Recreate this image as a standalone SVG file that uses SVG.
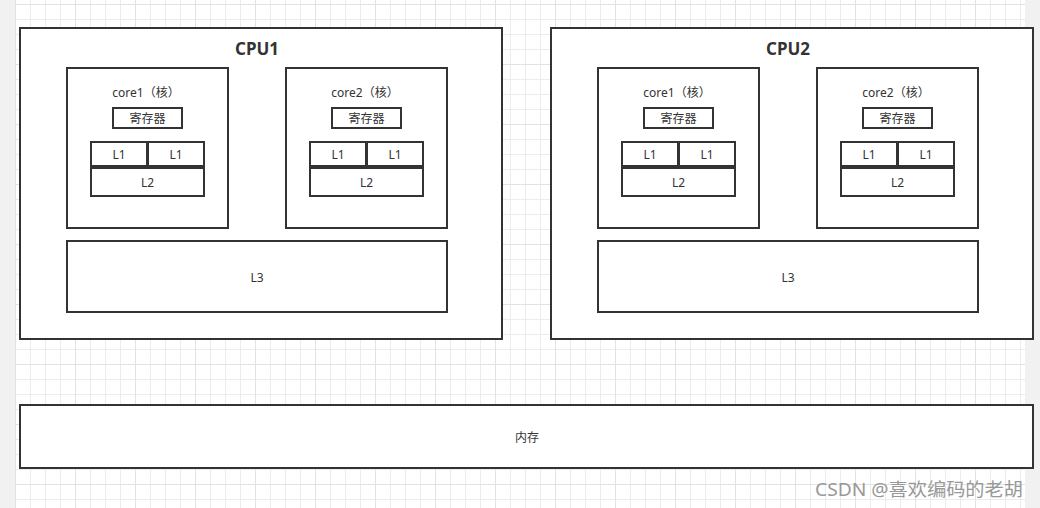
<svg xmlns="http://www.w3.org/2000/svg" width="1040" height="508" viewBox="0 0 1040 508">
<defs>
<pattern id="minor" patternUnits="userSpaceOnUse" x="15" y="4" width="15" height="15">
<path d="M0.5 0V15M0 0.5H15" stroke="#ececec" stroke-width="1" fill="none"/>
</pattern>
<pattern id="major" patternUnits="userSpaceOnUse" x="15" y="4" width="60" height="60">
<path d="M0.5 0V60M0 0.5H60" stroke="#e2e2e2" stroke-width="1" fill="none"/>
</pattern>
<style>
.box{fill:#fff;stroke:#333;stroke-width:2}
.t{font-family:"Noto Sans","Noto Sans CJK SC",sans-serif;font-size:12px;fill:#333;text-anchor:middle;dominant-baseline:central}
.h{font-family:"Noto Sans","Noto Sans CJK SC",sans-serif;font-size:17px;font-weight:bold;fill:#333;text-anchor:middle;dominant-baseline:central}
</style>
</defs>
<rect width="1040" height="508" fill="#f1f1f1"/>
<rect x="15" y="0" width="1010" height="508" fill="#fff"/>
<rect x="15" y="0" width="1010" height="508" fill="url(#minor)"/>
<rect x="15" y="0" width="1010" height="508" fill="url(#major)"/>

<g id="cpu1">
<rect class="box" x="20" y="28" width="482" height="311"/>
<text class="h" x="257" y="48">CPU1</text>
<g id="cpu1-core1">
<rect class="box" x="67" y="68" width="161" height="160"/>
<text class="t" x="146" y="92">core1（核）</text>
<rect class="box" x="113" y="108" width="69" height="20"/>
<text class="t" x="147.5" y="118">寄存器</text>
<rect class="box" x="91" y="142" width="56" height="24"/>
<text class="t" x="119" y="154">L1</text>
<rect class="box" x="148" y="142" width="56" height="24"/>
<text class="t" x="176" y="154">L1</text>
<rect class="box" x="91" y="168" width="113" height="28"/>
<text class="t" x="147.5" y="182">L2</text>
</g>
<g id="cpu1-core2">
<rect class="box" x="286" y="68" width="161" height="160"/>
<text class="t" x="365" y="92">core2（核）</text>
<rect class="box" x="332" y="108" width="69" height="20"/>
<text class="t" x="366.5" y="118">寄存器</text>
<rect class="box" x="310" y="142" width="56" height="24"/>
<text class="t" x="338" y="154">L1</text>
<rect class="box" x="367" y="142" width="56" height="24"/>
<text class="t" x="395" y="154">L1</text>
<rect class="box" x="310" y="168" width="113" height="28"/>
<text class="t" x="366.5" y="182">L2</text>
</g>
<g id="cpu1-l3">
<rect class="box" x="67" y="241" width="380" height="71"/>
<text class="t" x="257" y="277">L3</text>
</g>
</g>

<g id="cpu2" transform="translate(531,0)">
<rect class="box" x="20" y="28" width="482" height="311"/>
<text class="h" x="257" y="48">CPU2</text>
<g id="cpu2-core1">
<rect class="box" x="67" y="68" width="161" height="160"/>
<text class="t" x="146" y="92">core1（核）</text>
<rect class="box" x="113" y="108" width="69" height="20"/>
<text class="t" x="147.5" y="118">寄存器</text>
<rect class="box" x="91" y="142" width="56" height="24"/>
<text class="t" x="119" y="154">L1</text>
<rect class="box" x="148" y="142" width="56" height="24"/>
<text class="t" x="176" y="154">L1</text>
<rect class="box" x="91" y="168" width="113" height="28"/>
<text class="t" x="147.5" y="182">L2</text>
</g>
<g id="cpu2-core2">
<rect class="box" x="286" y="68" width="161" height="160"/>
<text class="t" x="365" y="92">core2（核）</text>
<rect class="box" x="332" y="108" width="69" height="20"/>
<text class="t" x="366.5" y="118">寄存器</text>
<rect class="box" x="310" y="142" width="56" height="24"/>
<text class="t" x="338" y="154">L1</text>
<rect class="box" x="367" y="142" width="56" height="24"/>
<text class="t" x="395" y="154">L1</text>
<rect class="box" x="310" y="168" width="113" height="28"/>
<text class="t" x="366.5" y="182">L2</text>
</g>
<g id="cpu2-l3">
<rect class="box" x="67" y="241" width="380" height="71"/>
<text class="t" x="257" y="277">L3</text>
</g>
</g>

<g id="memory">
<rect class="box" x="20" y="405" width="1013" height="63"/>
<text class="t" x="527" y="437">内存</text>
</g>

<g id="connectors"></g>

<text x="815" y="496" textLength="208" lengthAdjust="spacingAndGlyphs" font-family="'Noto Sans','Noto Sans CJK SC',sans-serif" font-size="18" fill="#999">CSDN @喜欢编码的老胡</text>
</svg>
